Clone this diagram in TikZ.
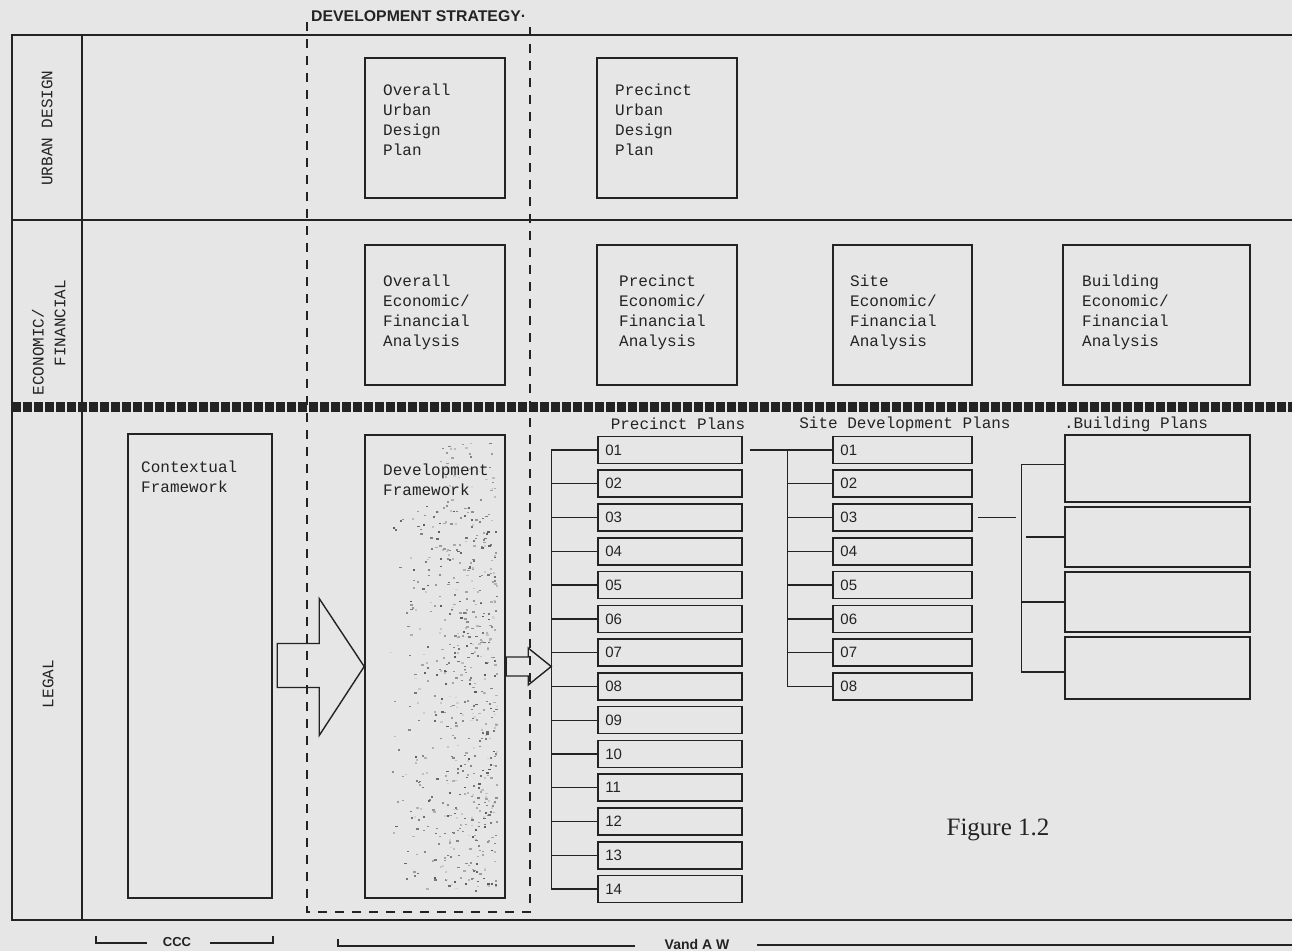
\documentclass[tikz,border=0pt]{standalone}
\usepackage{fontspec}
\setmainfont{Liberation Serif}
\setsansfont{Liberation Sans}
\setmonofont{Liberation Mono}
\usetikzlibrary{calc}
\definecolor{ink}{RGB}{35,35,35}
\definecolor{paper}{RGB}{230,230,230}
\begin{document}
\begin{tikzpicture}[x=1pt,y=-1pt,
  rule/.style={draw=ink,line width=1.4pt},
  box/.style={draw=ink,line width=1.6pt,rectangle,inner sep=0pt},
  mono/.style={font=\ttfamily\fontsize{16}{20}\selectfont,text=ink,inner sep=0pt},
  boxtext/.style={mono,align=left,anchor=north west},
  num/.style={font=\sffamily\fontsize{15}{15}\selectfont,text=ink,anchor=west,inner sep=0pt},
  conn/.style={draw=ink,line width=1.3pt},
  strat/.style={draw=ink,line width=2pt,dash pattern=on 9pt off 8pt},
  blockarrow/.style={draw=ink,line width=1.4pt,line join=miter},
  bracket/.style={draw=ink,line width=1.1pt},
  botlabel/.style={font=\sffamily\bfseries\fontsize{13}{13}\selectfont,text=ink,inner sep=0pt},
]
\fill[paper] (0,0) rectangle (1292,951);
\useasboundingbox (0,0) rectangle (1292,951);

% frame
\draw[rule] (1292,35) -- (12,35) -- (12,920) -- (1292,920);
\draw[rule] (82,35) -- (82,920);
\draw[rule] (12,220) -- (1292,220);
\draw[draw=ink,line width=10pt,dash pattern=on 8.5pt off 2.5pt] (12,407) -- (1292,407);

% row labels
\node[mono,rotate=90] (lurban) at (47,128) {URBAN DESIGN};
\node[mono,rotate=90] (lecon1) at (38,352) {ECONOMIC/};
\node[mono,rotate=90] (lecon2) at (60,323) {FINANCIAL};
\node[mono,rotate=90] (llegal) at (48,684) {LEGAL};

% development strategy
\node[font=\sffamily\bfseries\fontsize{15.5}{15.5}\selectfont,text=ink,anchor=west,inner sep=0pt,xscale=1.02] (hdr) at (311,16) {DEVELOPMENT STRATEGY·};
\draw[strat] (307,22) -- (307,912) -- (530,912) -- (530,22);

% urban design
\node[box,minimum width=140pt,minimum height=140pt] (udo) at (435,128) {};
\node[boxtext] (udot) at (383,84) {Overall\\Urban\\Design\\Plan};
\node[box,minimum width=140pt,minimum height=140pt] (udp) at (667,128) {};
\node[boxtext] (udpt) at (615,84) {Precinct\\Urban\\Design\\Plan};

% economic
\node[box,minimum width=140pt,minimum height=140pt] (efo) at (435,315) {};
\node[boxtext] (efot) at (383,275) {Overall\\Economic/\\Financial\\Analysis};
\node[box,minimum width=140pt,minimum height=140pt] (efp) at (667,315) {};
\node[boxtext] (efpt) at (619,275) {Precinct\\Economic/\\Financial\\Analysis};
\node[box,minimum width=139pt,minimum height=140pt] (efs) at (902.5,315) {};
\node[boxtext] (efst) at (850,275) {Site\\Economic/\\Financial\\Analysis};
\node[box,minimum width=187pt,minimum height=140pt] (efb) at (1156.5,315) {};
\node[boxtext] (efbt) at (1082,275) {Building\\Economic/\\Financial\\Analysis};

% legal
\node[box,minimum width=144pt,minimum height=464pt] (ctx) at (200,666) {};
\node[boxtext] (ctxt) at (141,461) {Contextual\\Framework};
\pgfmathsetseed{42}
\foreach \k in {1,...,600}{
  \pgfmathsetmacro{\dx}{384+112*sqrt(rnd)}
  \pgfmathsetmacro{\dy}{505+385*rnd}
  \pgfmathtruncatemacro{\dg}{20+55*rnd}
  \fill[ink!\dg] (\dx,\dy) rectangle ++(2.2,1.6);
}
\foreach \k in {1,...,40}{
  \pgfmathsetmacro{\dx}{440+55*rnd}
  \pgfmathsetmacro{\dy}{442+60*rnd}
  \pgfmathtruncatemacro{\dg}{20+40*rnd}
  \fill[ink!\dg] (\dx,\dy) rectangle ++(2.2,1.6);
}
\node[box,minimum width=140pt,minimum height=463pt] (dev) at (435,666.5) {};
\node[boxtext,fill=paper,fill opacity=0.6,text opacity=1] (devt) at (383,464) {Development\\Framework};

% block arrows
\draw[blockarrow] ($(dev.west)+(-87,-23)$) -- ++(42,0) -- ++(0,-45) -- (dev.west)
  -- ++(-45,69) -- ++(0,-48) -- ++(-42,0) -- cycle;

% precinct plans
\node[mono] (plab) at (678,424) {Precinct Plans};
\foreach \i in {1,...,14}{
  \pgfmathsetmacro{\yy}{450+33.77*(\i-1)}
  \node[box,minimum width=144pt,minimum height=27pt] (p\i) at (670,\yy) {};
  \node[num] (pn\i) at ($(p\i.west)+(8,0)$) {\ifnum\i<10 0\fi\i};
  \draw[conn] (p\i.west) -- ++(-46,0);
}
\coordinate (pbt) at ($(p1.west)+(-46,0)$);
\coordinate (pbb) at ($(p14.west)+(-46,0)$);
\draw[conn] (pbt) -- (pbb);
\coordinate (tip2) at (pbt |- dev.east);
\draw[blockarrow] ($(tip2)+(-45,-9.5)$) -- ++(22,0) -- ++(0,-9) -- (tip2)
  -- ++(-23,18.5) -- ++(0,-9) -- ++(-22,0) -- cycle;

% site development plans
\node[mono] (slab) at (905,424) {Site Development Plans};
\foreach \i in {1,...,8}{
  \pgfmathsetmacro{\yy}{450+33.77*(\i-1)}
  \node[box,minimum width=139pt,minimum height=27pt] (s\i) at (902.5,\yy) {};
  \node[num] (sn\i) at ($(s\i.west)+(8,0)$) {0\i};
  \draw[conn] (s\i.west) -- ++(-45,0);
}
\coordinate (sbt) at ($(s1.west)+(-45,0)$);
\coordinate (sbb) at ($(s8.west)+(-45,0)$);
\draw[conn] (sbt) -- (sbb);
\draw[conn] ($(p1.east)+(7,0)$) -- (sbt);

% building plans
\node[mono] (blab) at (1136,424) {.Building Plans};
\node[box,minimum width=185pt,minimum height=67pt] (b1) at (1157.5,468.5) {};
\node[box,minimum width=185pt,minimum height=60pt] (b2) at (1157.5,537) {};
\node[box,minimum width=185pt,minimum height=60pt] (b3) at (1157.5,602) {};
\node[box,minimum width=185pt,minimum height=62pt] (b4) at (1157.5,668) {};
\draw[conn] ($(b1.west)+(0,-4)$) -- ++(-43,0) coordinate (bbt);
\draw[conn] ($(b4.west)+(0,4)$) -- ++(-43,0) coordinate (bbb);
\draw[conn] (bbt) -- (bbb);
\draw[conn] (b2.west) -- ++(-38,0);
\draw[conn] (b3.west) -- ++(-43,0);
\draw[conn] ($(s3.east)+(5,0)$) -- ++(38,0);

% figure caption
\node[font=\rmfamily\fontsize{25}{25}\selectfont,text=ink] (fig) at (998,830) {Figure 1.2};

% bottom brackets
\node[botlabel] (ccc) at (177,942) {CCC};
\draw[bracket] (96,936) -- (96,943) -- (147,943);
\draw[bracket] (210,943) -- (273,943) -- (273,936);
\node[botlabel,font=\sffamily\bfseries\fontsize{14}{14}\selectfont] (vaw) at (697,944) {Vand A W};
\draw[bracket] (338,939) -- (338,946) -- (635,946);
\draw[bracket] (757,945) -- (1292,945);
\end{tikzpicture}
\end{document}
